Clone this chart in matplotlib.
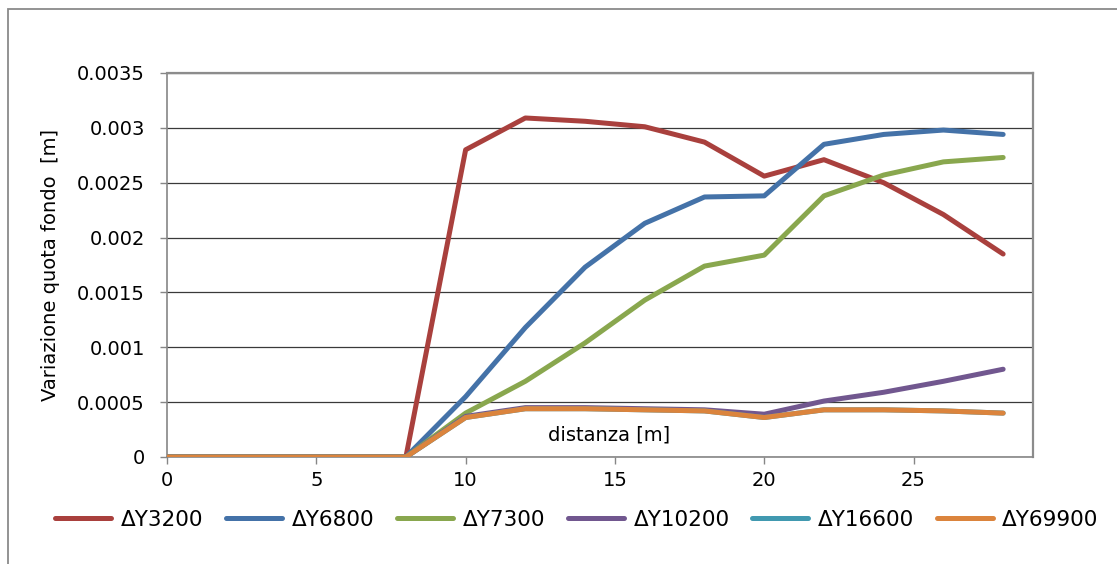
import matplotlib
matplotlib.use("Agg")
import matplotlib.pyplot as plt
from matplotlib.patches import Rectangle

# Distance along the channel [m]
distanza = [0, 2, 4, 6, 8, 10, 12, 14, 16, 18, 20, 22, 24, 26, 28]

# Bed level change for each time step [m]
dy3200 = [0, 0, 0, 0, 0, 0.00280, 0.00309, 0.00306, 0.00301, 0.00287,
          0.00256, 0.00271, 0.00250, 0.00221, 0.00185]
dy6800 = [0, 0, 0, 0, 0, 0.00055, 0.00118, 0.00173, 0.00213, 0.00237,
          0.00238, 0.00285, 0.00294, 0.00298, 0.00294]
dy7300 = [0, 0, 0, 0, 0, 0.00040, 0.00069, 0.00104, 0.00143, 0.00174,
          0.00184, 0.00238, 0.00257, 0.00269, 0.00273]
dy10200 = [0, 0, 0, 0, 0, 0.00037, 0.00045, 0.00045, 0.00044, 0.00043,
           0.00039, 0.00051, 0.00059, 0.00069, 0.00080]
dy16600 = [0, 0, 0, 0, 0, 0.00036, 0.00044, 0.00044, 0.00043, 0.00042,
           0.00036, 0.00043, 0.00043, 0.00042, 0.00040]
dy69900 = [0, 0, 0, 0, 0, 0.00036, 0.00044, 0.00044, 0.00043, 0.00042,
           0.00036, 0.00043, 0.00043, 0.00042, 0.00040]

series = [
    ("ΔY3200", dy3200, "#A9403D"),
    ("ΔY6800", dy6800, "#4472A8"),
    ("ΔY7300", dy7300, "#89A74E"),
    ("ΔY10200", dy10200, "#71578F"),
    ("ΔY16600", dy16600, "#4199B0"),
    ("ΔY69900", dy69900, "#DB843D"),
]

x_ticks = [0, 5, 10, 15, 20, 25]
y_ticks = [0, 0.0005, 0.001, 0.0015, 0.002, 0.0025, 0.003, 0.0035]
y_tick_labels = ["0", "0.0005", "0.001", "0.0015", "0.002", "0.0025", "0.003", "0.0035"]

plt.rcParams["font.family"] = ["DejaVu Sans"]

W, H = 1117, 564
fig = plt.figure(figsize=(W / 100, H / 100), dpi=100)

# outer chart frame
fig.patches.append(Rectangle((8 / W, -0.1), 1.2, 1 - 9 / H + 0.1,
                             transform=fig.transFigure, fill=False,
                             edgecolor="#8a8a8a", linewidth=1.3))

ax = fig.add_axes([167 / W, 1 - 457 / H, (1033 - 167) / W, (457 - 73) / H])

for name, vals, col in series:
    ax.plot(distanza, vals, color=col, linewidth=3.6, label=name,
            solid_capstyle="round", solid_joinstyle="round", zorder=3)

ax.set_xlim(0, 29)
ax.set_ylim(0, 0.0035)
ax.set_xticks(x_ticks)
ax.set_yticks(y_ticks)
ax.set_yticklabels(y_tick_labels)

ax.yaxis.grid(True, color="#3a3a3a", linewidth=0.9)
ax.set_axisbelow(True)

for side in ["top", "right"]:
    ax.spines[side].set_color("#8c8c8c")
    ax.spines[side].set_linewidth(1.6)
for side in ["left", "bottom"]:
    ax.spines[side].set_color("#868686")
    ax.spines[side].set_linewidth(1.2)

ax.tick_params(axis="both", direction="out", length=5, width=1,
               color="#868686", labelsize=14, labelcolor="black")
ax.tick_params(axis="x", pad=5)
ax.tick_params(axis="y", pad=11)

ax.set_ylabel("Variazione quota fondo  [m]", fontsize=14)
ax.yaxis.set_label_coords(-0.124, 0.5)
ax.set_xlabel("distanza [m]", fontsize=14)
ax.xaxis.set_label_coords(0.511, 0.083)

fig.legend(loc="center", bbox_to_anchor=(577 / W, 1 - 520 / H), ncol=6,
           frameon=False, fontsize=15.5, handlelength=2.6,
           handletextpad=0.45, columnspacing=1.05, borderaxespad=0)

fig.savefig("out.png", dpi=100)
